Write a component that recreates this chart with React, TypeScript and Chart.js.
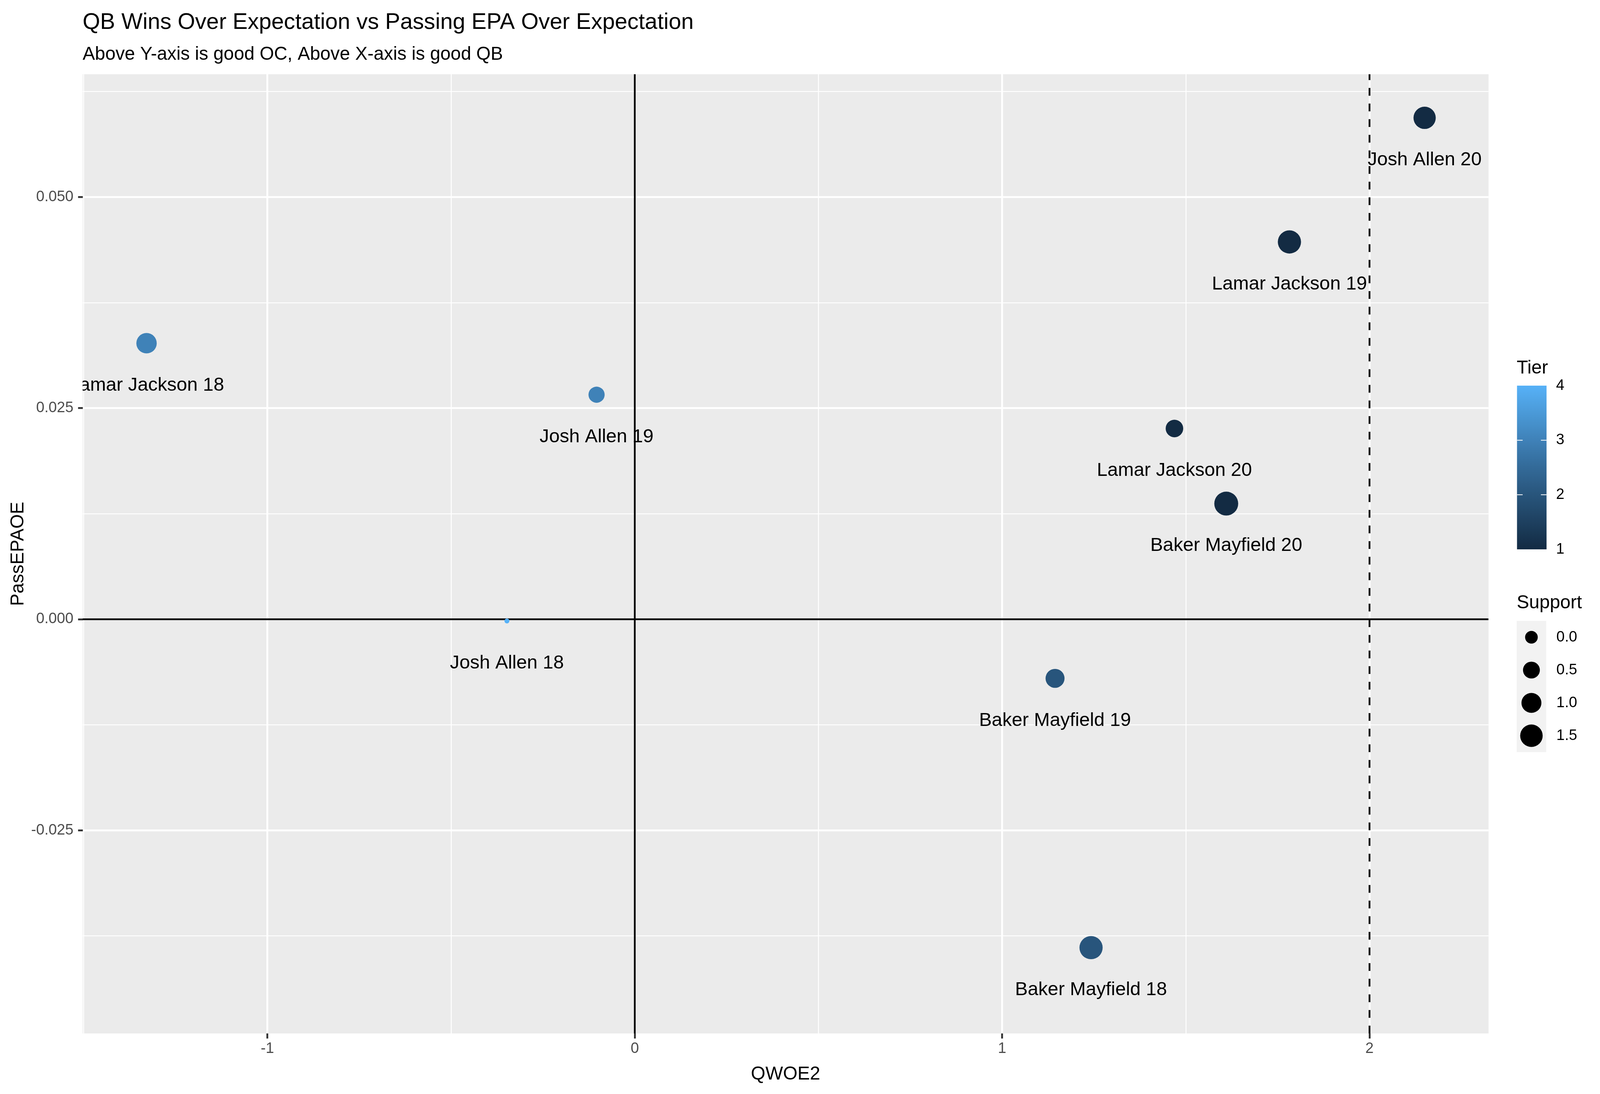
import { useEffect, useRef } from "react"
import { Chart, registerables } from "chart.js"

Chart.register(...registerables)

const FONT = "'Liberation Sans', Arial, Helvetica, sans-serif"

// values
const players = [
  "Josh Allen 20",
  "Lamar Jackson 19",
  "Lamar Jackson 18",
  "Josh Allen 19",
  "Lamar Jackson 20",
  "Baker Mayfield 20",
  "Josh Allen 18",
  "Baker Mayfield 19",
  "Baker Mayfield 18",
]
const qwoe2 = [2.15, 1.782, -1.329, -0.104, 1.469, 1.61, -0.348, 1.144, 1.242]
const passEpaoe = [0.0594, 0.0447, 0.0327, 0.0266, 0.0226, 0.0137, -0.0002, -0.007, -0.0389]
const tier = [1, 1, 3, 3, 1, 1, 4, 2, 2]
const support = [1.45, 1.65, 1.08, 0.4, 0.6, 1.81, -0.36, 0.83, 1.65]

const xMajor = [-1, 0, 1, 2]
const xMinor = [-1.5, -0.5, 0.5, 1.5]
const yMajor = [-0.025, 0, 0.025, 0.05]
const yMinor = [-0.0375, -0.0125, 0.0125, 0.0375, 0.0625]
const tierBreaks = [1, 2, 3, 4]
const supportBreaks = [0, 0.5, 1, 1.5]
const qbLine = 2
const labelNudge = -0.005

// ggplot style 5% expansion, labels included in the y range
const xLo = Math.min(...qwoe2)
const xHi = Math.max(...qwoe2)
const yLo = Math.min(...passEpaoe.map((v) => v + labelNudge), ...passEpaoe)
const yHi = Math.max(...passEpaoe)
const xPad = (xHi - xLo) * 0.05
const yPad = (yHi - yLo) * 0.05

// layout was measured on a 4550 x 2800 picture, scaled to the real window
const REF_W = 4550
const REF_H = 2800

const LOW = [19, 43, 67]
const MID = [51, 106, 152]
const HIGH = [86, 177, 247]

function tierColor(t: number) {
  const u = Math.min(Math.max((t - 1) / 3, 0), 1)
  const [a, b, f] = u < 0.5 ? [LOW, MID, u / 0.5] : [MID, HIGH, (u - 0.5) / 0.5]
  const c = (a as number[]).map((v, i) => Math.round(v + ((b as number[])[i] - v) * (f as number)))
  return `rgb(${c[0]}, ${c[1]}, ${c[2]})`
}

const supMin = Math.min(...support)
const supMax = Math.max(...support)
function supportSize(v: number) {
  // ggplot scale_size: area proportional, range 1..6
  const size = 1 + 5 * Math.sqrt(Math.max(v - supMin, 0) / (supMax - supMin))
  return 1.6 + 5.4 * size
}

const isMajor = (list: number[], v: number) => list.some((m) => Math.abs(m - v) < 1e-9)

function makePlugin(sx: number, sy: number) {
  const X = (v: number) => v * sx
  const Y = (v: number) => v * sy
  const F = (v: number) => `${(v * sx).toFixed(1)}px ${FONT}`

  return {
    id: "ggDecor",
    beforeDraw(chart: any) {
      const { ctx, chartArea: a } = chart
      ctx.save()
      ctx.fillStyle = "#ffffff"
      ctx.fillRect(0, 0, chart.width, chart.height)
      ctx.fillStyle = "#EBEBEB"
      ctx.fillRect(a.left, a.top, a.right - a.left, a.bottom - a.top)
      ctx.restore()
    },
    beforeDatasetsDraw(chart: any) {
      const { ctx, chartArea: a, scales } = chart
      const x0 = scales.x.getPixelForValue(0)
      const y0 = scales.y.getPixelForValue(0)
      const x2 = scales.x.getPixelForValue(qbLine)
      ctx.save()
      ctx.beginPath()
      ctx.rect(a.left, a.top, a.right - a.left, a.bottom - a.top)
      ctx.clip()
      ctx.strokeStyle = "#000000"
      ctx.lineWidth = 5 * sx
      ctx.beginPath()
      ctx.moveTo(a.left, y0)
      ctx.lineTo(a.right, y0)
      ctx.stroke()
      ctx.beginPath()
      ctx.moveTo(x0, a.top)
      ctx.lineTo(x0, a.bottom)
      ctx.stroke()
      ctx.setLineDash([Y(20), Y(20)])
      ctx.beginPath()
      ctx.moveTo(x2, a.bottom)
      ctx.lineTo(x2, a.top)
      ctx.stroke()
      ctx.restore()
    },
    afterDatasetsDraw(chart: any) {
      const { ctx, chartArea: a, scales } = chart
      ctx.save()
      ctx.beginPath()
      ctx.rect(a.left, a.top, a.right - a.left, a.bottom - a.top)
      ctx.clip()
      ctx.font = F(54)
      ctx.fillStyle = "#000000"
      ctx.textAlign = "center"
      ctx.textBaseline = "middle"
      players.forEach((name, i) => {
        ctx.fillText(
          name,
          scales.x.getPixelForValue(qwoe2[i]),
          scales.y.getPixelForValue(passEpaoe[i] + labelNudge)
        )
      })
      ctx.restore()
    },
    afterDraw(chart: any) {
      const { ctx, chartArea: a } = chart
      ctx.save()
      ctx.fillStyle = "#000000"
      ctx.textBaseline = "alphabetic"
      ctx.textAlign = "left"

      // titles
      ctx.font = F(64)
      ctx.fillText("QB Wins Over Expectation vs Passing EPA Over Expectation", a.left, Y(74))
      ctx.font = F(52.5)
      ctx.fillText("Above Y-axis is good OC, Above X-axis is good QB", a.left, Y(153))

      // axis titles
      ctx.font = F(53)
      ctx.textAlign = "center"
      ctx.fillText("QWOE2", (a.left + a.right) / 2, Y(2763))
      ctx.save()
      ctx.translate(X(67), (a.top + a.bottom) / 2)
      ctx.rotate(-Math.PI / 2)
      ctx.fillText("PassEPAOE", 0, 0)
      ctx.restore()

      // tier colourbar
      const barL = X(4314)
      const barW = X(84)
      const barTop = Y(987)
      const barBot = Y(1406)
      ctx.textAlign = "left"
      ctx.font = F(53)
      ctx.fillText("Tier", barL - X(1), Y(956))
      const grad = ctx.createLinearGradient(0, barBot, 0, barTop)
      for (let s = 0; s <= 20; s++) grad.addColorStop(s / 20, tierColor(1 + (3 * s) / 20))
      ctx.fillStyle = grad
      ctx.fillRect(barL, barTop, barW, barBot - barTop)
      ctx.font = F(42.5)
      ctx.textBaseline = "middle"
      tierBreaks.forEach((t) => {
        const yy = barBot - ((t - 1) / 3) * (barBot - barTop)
        if (t > 1 && t < 4) {
          ctx.strokeStyle = "#ffffff"
          ctx.lineWidth = 2
          ctx.beginPath()
          ctx.moveTo(barL, yy)
          ctx.lineTo(barL + X(16), yy)
          ctx.moveTo(barL + barW - X(16), yy)
          ctx.lineTo(barL + barW, yy)
          ctx.stroke()
        }
        ctx.fillStyle = "#000000"
        ctx.fillText(String(t), X(4425), yy)
      })

      // support size legend
      ctx.textBaseline = "alphabetic"
      ctx.font = F(53)
      ctx.fillText("Support", barL - X(1), Y(1557))
      const keyTop = Y(1589)
      const keyH = Y(84)
      ctx.fillStyle = "#F2F2F2"
      ctx.fillRect(barL - X(1), keyTop, barW, keyH * supportBreaks.length)
      ctx.font = F(42.5)
      ctx.textBaseline = "middle"
      supportBreaks.forEach((v, i) => {
        const cy = keyTop + keyH * i + keyH / 2
        ctx.fillStyle = "#000000"
        ctx.beginPath()
        ctx.arc(X(4355), cy, supportSize(v) * sx, 0, Math.PI * 2)
        ctx.fill()
        ctx.fillText(v.toFixed(1), X(4426), cy)
      })
      ctx.restore()
    },
  }
}

export default function App() {
  const chartRef = useRef<HTMLCanvasElement>(null)
  const chartInstance = useRef<Chart | null>(null)
  const W = typeof window !== "undefined" ? window.innerWidth || REF_W : REF_W
  const H = typeof window !== "undefined" ? window.innerHeight || REF_H : REF_H

  useEffect(() => {
    document.body.style.margin = "0"
    document.body.style.overflow = "hidden"
    if (!chartRef.current) return
    if (chartInstance.current) chartInstance.current.destroy()

    const sx = W / REF_W
    const sy = H / REF_H

    const gridWidth = (list: number[]) => (c: any) => (isMajor(list, c.tick?.value) ? 5.2 * sx : 2.6 * sx)
    const tickColor = (list: number[]) => (c: any) =>
      isMajor(list, c.tick?.value) ? "#333333" : "rgba(0,0,0,0)"

    chartInstance.current = new Chart(chartRef.current, {
      type: "scatter",
      data: {
        datasets: [
          {
            label: "QB seasons",
            data: qwoe2.map((x, i) => ({ x, y: passEpaoe[i] })),
            backgroundColor: tier.map(tierColor),
            borderWidth: 0,
            pointRadius: support.map((v) => supportSize(v) * sx),
            pointHoverRadius: support.map((v) => supportSize(v) * sx),
          },
        ],
      },
      options: {
        animation: false,
        responsive: true,
        maintainAspectRatio: false,
        devicePixelRatio: 1,
        layout: { padding: { top: 190 * sy, right: 317 * sx, bottom: 0, left: 0 } },
        plugins: {
          legend: { display: false },
          title: { display: false },
          tooltip: { enabled: false },
        },
        scales: {
          x: {
            type: "linear",
            min: xLo - xPad,
            max: xHi + xPad,
            afterBuildTicks: (axis: any) => {
              axis.ticks = [...xMinor, ...xMajor].sort((p, q) => p - q).map((value) => ({ value }))
            },
            afterFit: (axis: any) => {
              axis.height = 155 * sy
            },
            border: { display: false },
            grid: {
              color: "#ffffff",
              lineWidth: gridWidth(xMajor),
              tickLength: 13 * sy,
              tickColor: tickColor(xMajor),
              tickWidth: 5.2 * sx,
            },
            ticks: {
              autoSkip: false,
              maxRotation: 0,
              padding: 3 * sy,
              color: "#4D4D4D",
              font: { family: FONT, size: 42.5 * sx },
              callback: (v: any) => (isMajor(xMajor, Number(v)) ? String(Number(v)) : ""),
            },
          },
          y: {
            type: "linear",
            min: yLo - yPad,
            max: yHi + yPad,
            afterBuildTicks: (axis: any) => {
              axis.ticks = [...yMinor, ...yMajor].sort((p, q) => p - q).map((value) => ({ value }))
            },
            afterFit: (axis: any) => {
              axis.width = 235 * sx
            },
            border: { display: false },
            grid: {
              color: "#ffffff",
              lineWidth: gridWidth(yMajor),
              tickLength: 13 * sx,
              tickColor: tickColor(yMajor),
              tickWidth: 5.2 * sx,
            },
            ticks: {
              autoSkip: false,
              padding: 13 * sx,
              color: "#4D4D4D",
              font: { family: FONT, size: 42.5 * sx },
              callback: (v: any) => (isMajor(yMajor, Number(v)) ? Number(v).toFixed(3) : ""),
            },
          },
        },
      },
      plugins: [makePlugin(sx, sy)],
    } as any)

    return () => {
      if (chartInstance.current) {
        chartInstance.current.destroy()
        chartInstance.current = null
      }
    }
  }, [W, H])

  return (
    <div style={{ position: "relative", width: `${W}px`, height: `${H}px` }}>
      <canvas ref={chartRef}></canvas>
    </div>
  )
}
